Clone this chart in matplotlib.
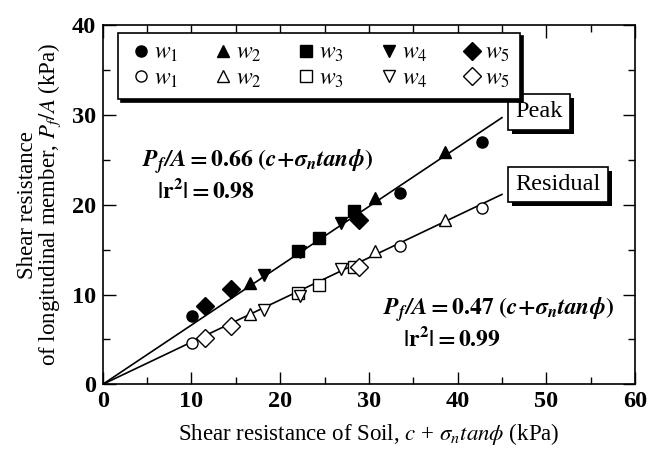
import numpy as np
import matplotlib
matplotlib.use('Agg')
import matplotlib.pyplot as plt
from matplotlib import patheffects

plt.rcParams['font.family'] = 'Liberation Serif'
plt.rcParams['mathtext.fontset'] = 'stix'

# peak (filled) and residual (open) data per width group w1..w5
peak_x = {
    'w1': [10.1, 33.5, 42.8],
    'w2': [16.6, 30.7, 38.6],
    'w3': [22.0, 24.4, 28.3],
    'w4': [18.2, 22.2, 26.9],
    'w5': [11.5, 14.5, 28.9],
}
peak_y = {
    'w1': [7.6, 21.3, 27.0],
    'w2': [11.3, 20.7, 25.9],
    'w3': [14.9, 16.3, 19.3],
    'w4': [12.2, 14.7, 18.0],
    'w5': [8.7, 10.6, 18.3],
}
resid_x = peak_x
resid_y = {
    'w1': [4.6, 15.4, 19.6],
    'w2': [7.8, 14.8, 18.3],
    'w3': [10.2, 11.1, 13.1],
    'w4': [8.3, 9.8, 12.8],
    'w5': [5.2, 6.5, 13.1],
}
groups = ['w1', 'w2', 'w3', 'w4', 'w5']
markers = {'w1': 'o', 'w2': '^', 'w3': 's', 'w4': 'v', 'w5': 'D'}
msize = {'w1': 8, 'w2': 9, 'w3': 8, 'w4': 9, 'w5': 9.5}
labels = {g: r'$w_{%s}$' % g[1] for g in groups}

peak_slope = 0.66
resid_slope = 0.47
fit_xmax = 45.0

fig = plt.figure(figsize=(6.5, 4.57), dpi=100)
ax = fig.add_axes([0.158, 0.159, 0.819, 0.786])

xs = np.array([0, fit_xmax])
ax.plot(xs, peak_slope * xs, color='k', lw=1.2, zorder=2)
ax.plot(xs, resid_slope * xs, color='k', lw=1.2, zorder=2)

handles = []
for g in groups:
    h1, = ax.plot(peak_x[g], peak_y[g], ls='none', marker=markers[g], ms=msize[g],
                  mfc='k', mec='k', zorder=3, label=labels[g])
    h2, = ax.plot(resid_x[g], resid_y[g], ls='none', marker=markers[g], ms=msize[g],
                  mfc='white', mec='k', mew=1.0, zorder=3, label=labels[g])
    handles += [h1, h2]

leg = ax.legend(handles=handles, ncol=5, loc='upper left', bbox_to_anchor=(0.029, 0.978),
                borderaxespad=0, fontsize=17, handletextpad=0.0, handlelength=1.1,
                columnspacing=1.35, labelspacing=0.15, fancybox=False, framealpha=1,
                edgecolor='k', shadow={'color': 'k', 'alpha': 1}, borderpad=0.4)
leg.get_frame().set_linewidth(1.2)

ax.set_xlim(0, 60)
ax.set_ylim(0, 40)
ax.set_xticks(np.arange(0, 61, 10))
ax.set_yticks(np.arange(0, 41, 10))
ax.set_xticks(np.arange(0, 61, 5), minor=True)
ax.set_yticks(np.arange(0, 41, 5), minor=True)
ax.tick_params(which='both', direction='in', top=True, right=True, width=1.0)
ax.tick_params(which='major', length=9, labelsize=17.5, pad=5)
ax.tick_params(which='minor', length=5)
for lab in ax.get_xticklabels() + ax.get_yticklabels():
    lab.set_fontweight('bold')
for s in ax.spines.values():
    s.set_linewidth(1.2)

ax.set_xlabel(r'Shear resistance of Soil, $c$ + $\sigma_n tan\phi$ (kPa)', fontsize=16.5,
              labelpad=6)
ax.set_ylabel('Shear resistance\n' + r'of longitudinal member, $P_f/A$ (kPa)', fontsize=16.5,
              labelpad=6, linespacing=0.95)

eq1 = r'$\mathbfit{P_f/A}\mathbf{=0.66\ (}\mathbfit{c}\mathbf{+}\mathbfit{\sigma_n tan\phi}\mathbf{)}$'
eq2 = r'$\mathbfit{P_f/A}\mathbf{=0.47\ (}\mathbfit{c}\mathbf{+}\mathbfit{\sigma_n tan\phi}\mathbf{)}$'
ax.text(4.4, 24.8, eq1, fontsize=17, va='center', ha='left')
ax.text(6.1, 21.5, r'$\mathbf{|r^2|=0.98}$', fontsize=17, va='center', ha='left')
ax.text(57.6, 8.3, eq2, fontsize=17, va='center', ha='right')
ax.text(33.9, 5.0, r'$\mathbf{|r^2|=0.99}$', fontsize=17, va='center', ha='left')

shadow = [patheffects.withSimplePatchShadow(offset=(3, -3), shadow_rgbFace='k', alpha=1)]
for txt, xx, yy in [('Peak', 46.5, 30.35), ('Residual', 46.5, 22.25)]:
    t = ax.text(xx, yy, txt, fontsize=17.5, va='center', ha='left',
                bbox=dict(boxstyle='square,pad=0.3', fc='white', ec='k', lw=1.2))
    t.get_bbox_patch().set_path_effects(shadow)

fig.savefig('out.png', dpi=100)
